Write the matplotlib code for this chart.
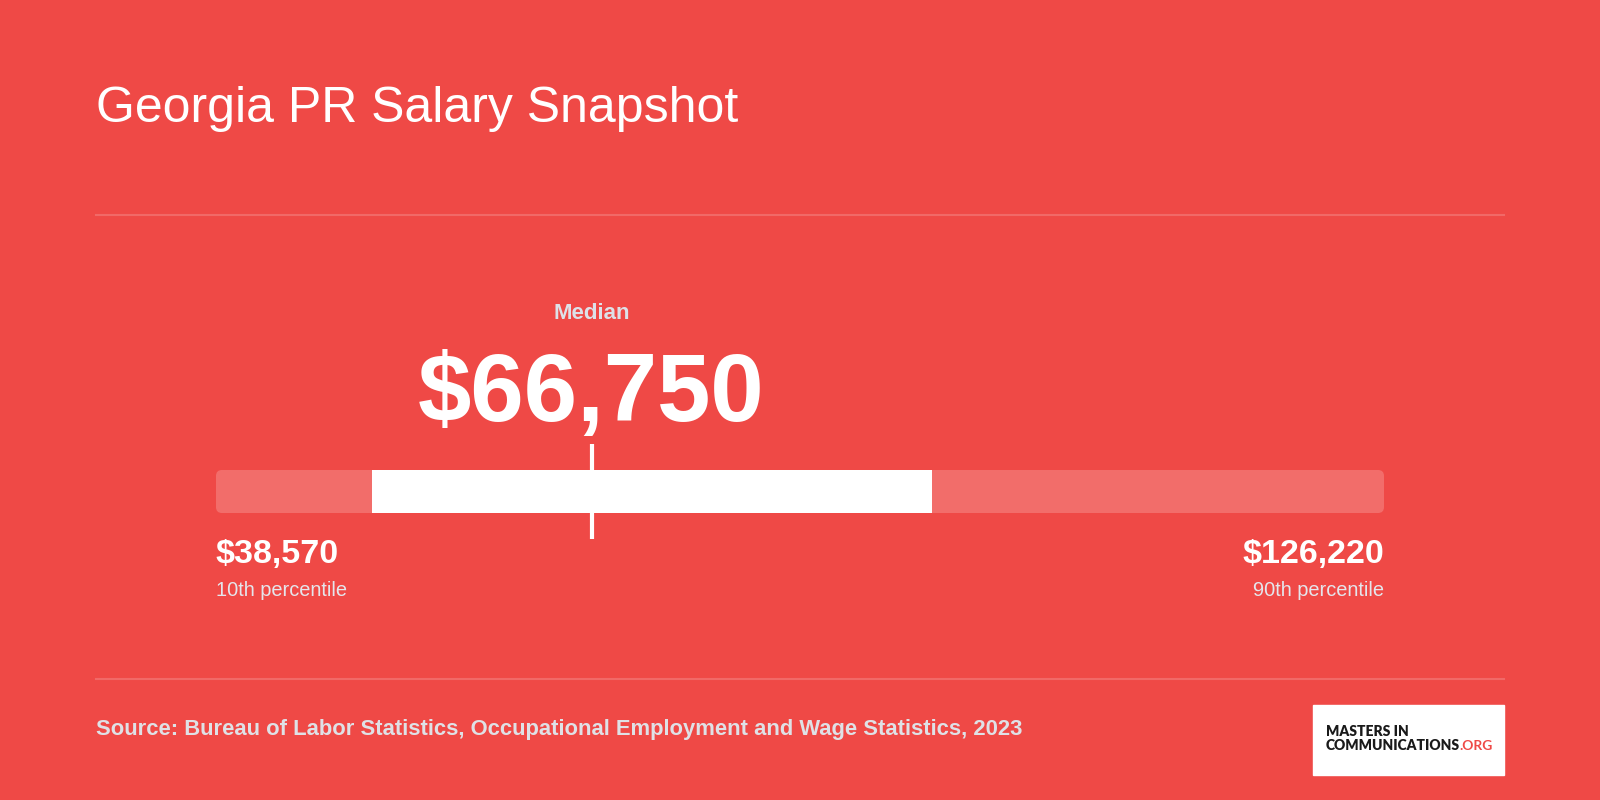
import matplotlib
matplotlib.use("Agg")
from matplotlib import pyplot as plt
from matplotlib.patches import FancyBboxPatch

title = "Georgia PR Salary Snapshot"
source = "Source: Bureau of Labor Statistics, Occupational Employment and Wage Statistics, 2023"
p10 = 38570       # 10th percentile
p25 = 50290       # 25th percentile
median = 66750
p75 = 92330       # 75th percentile
p90 = 126220      # 90th percentile
low_label = "10th percentile"
high_label = "90th percentile"

bg = "#EF4946"
W, H = 1600, 800

def px(x, y):
    return x / W, 1 - y / H

plt.rcParams['font.family'] = ['Liberation Sans', 'DejaVu Sans']

fig = plt.figure(figsize=(16, 8), dpi=100, facecolor=bg)

# title and divider lines
fig.text(*px(96, 122), title, fontsize=36, color="white", ha="left", va="baseline")
for y in (215, 679):
    fig.add_artist(plt.Line2D([96 / W, 1504 / W], [1 - y / H] * 2, color="white",
                              alpha=0.18, lw=1.5, transform=fig.transFigure))

# bar axes: x in dollars, spanning the 10th..90th percentile
left, right, top, bottom = 216, 1384, 444, 539
ax = fig.add_axes([left / W, 1 - bottom / H, (right - left) / W, (bottom - top) / H])
ax.set_xlim(p10, p90)
ax.set_ylim(0, 1)
ax.axis("off")
ax.patch.set_alpha(0)

bar_h = 0.453
x_per_px = (p90 - p10) / (right - left)
y_per_px = 1 / (bottom - top)
r = 6 * x_per_px
ax.add_patch(FancyBboxPatch((p10, 0.5 - bar_h / 2), p90 - p10, bar_h,
                            boxstyle=f"round,pad=0,rounding_size={r}",
                            mutation_aspect=y_per_px / x_per_px,
                            fc="white", alpha=0.2, ec="none"))
ax.barh(0.5, p75 - p25, left=p25, height=bar_h, color="white", edgecolor="none")
ax.axvline(median, 0, 1, color="white", lw=3, solid_capstyle="round")

# median labels
ax.annotate("Median", xy=(median, 1), xycoords=("data", "axes fraction"),
            xytext=(0, 130 * 0.72), textcoords="offset points", ha="center", va="center",
            fontsize=16, fontweight="bold", color="#dde1e8")
ax.annotate(f"${median:,}", xy=(median, 1), xycoords=("data", "axes fraction"),
            xytext=(0, 23 * 0.72), textcoords="offset points", ha="center", va="baseline",
            fontsize=69, fontweight="bold", color="white")

# end labels
for val, lab, ha in ((p10, low_label, "left"), (p90, high_label, "right")):
    ax.annotate(f"${val:,}", xy=(val, 0), xycoords=("data", "axes fraction"),
                xytext=(0, -24 * 0.72), textcoords="offset points", ha=ha, va="baseline",
                fontsize=24.5, fontweight="bold", color="white")
    ax.annotate(lab, xy=(val, 0), xycoords=("data", "axes fraction"),
                xytext=(0, -57 * 0.72), textcoords="offset points", ha=ha, va="baseline",
                fontsize=14.4, color="#e4e6ec")

# source
fig.text(*px(96, 729), source, fontsize=15.8, fontweight="bold", color="#dfe1e6",
         ha="left", va="center")

# logo box
fig.add_artist(plt.Rectangle(px(1313, 775), 191 / W, 70 / H, color="white",
                             transform=fig.transFigure))
logo_font = ["Lato", "DejaVu Sans"]
fig.text(*px(1326, 736), "MASTERS IN", fontsize=10, fontweight="heavy", color="#1a1a1a",
         family=logo_font, ha="left", va="baseline")
t = fig.text(*px(1326, 750), "COMMUNICATIONS", fontsize=10, fontweight="heavy",
             color="#1a1a1a", family=logo_font, ha="left", va="baseline")

# place .ORG right after COMMUNICATIONS
fig.canvas.draw()
bb = t.get_window_extent()
fig.text((bb.x1 - 1) / W, 1 - 750 / H, ".ORG", fontsize=10, fontweight="bold",
         color="#EF4946", family=logo_font, ha="left", va="baseline")

fig.savefig("out.png", dpi=100, facecolor=bg)
